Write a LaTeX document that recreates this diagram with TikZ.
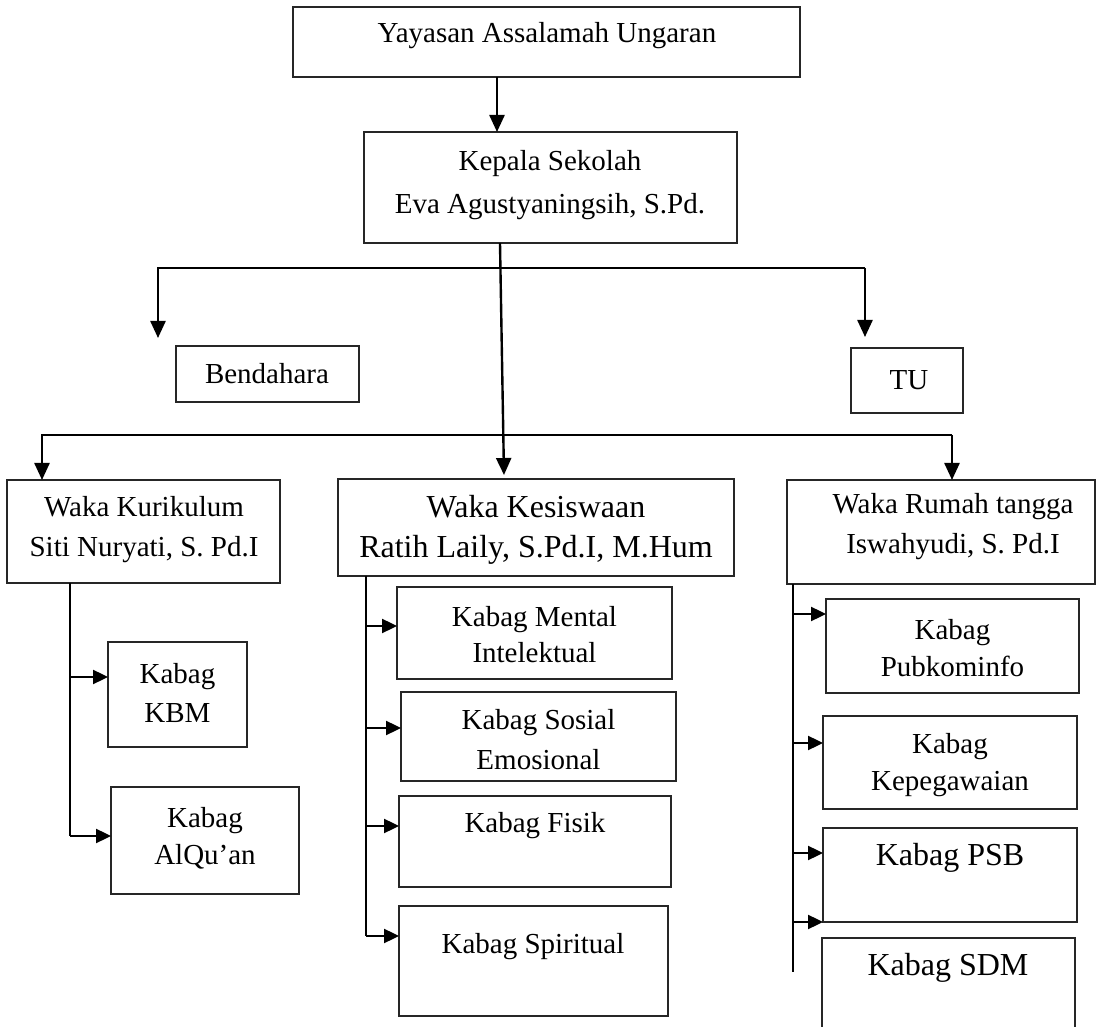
\documentclass[tikz,border=0pt]{standalone}
\usepackage{fontspec}
\setmainfont{Liberation Serif}
\usetikzlibrary{arrows.meta}
\tikzset{
  box/.style={draw=black!85, line width=0.6pt, rectangle, inner sep=0pt, outer sep=0pt},
  txt/.style={inner sep=0pt, align=center, font=\fontsize{14.5}{20}\selectfont},
  txtL/.style={inner sep=0pt, align=center, font=\fontsize{16}{20}\selectfont},
  conn/.style={line width=1.2pt, line join=miter},
  arr/.style={conn, -{Triangle[length=7.5pt,width=7pt]}},
  bigarr/.style={conn, -{Triangle[length=8.5pt,width=7.5pt]}},
}
% name, x1, y1, x2, y2 (pixels)
\newcommand{\mkbox}[5]{\node[box, minimum width={(#4-#2)*0.5pt}, minimum height={(#5-#3)*0.5pt}] (#1) at ({(#2+#4)/2},{(#3+#5)/2}) {};}
% vertical coordinate, target node, offset (px, downward) from target centre
\newcommand{\branchto}[3]{\path ([yshift={-(#3)*0.5pt}]#2.west) coordinate (#2-in);
  \draw[arr] (#1 |- #2-in) -- (#2-in);}
\begin{document}
\begin{tikzpicture}[x=0.5pt,y=-0.5pt]
\useasboundingbox (0,0) rectangle (1100,1027);
\clip (0,0) rectangle (1100,1027);

% boxes
\mkbox{yay}{293}{7}{800}{77}
\mkbox{kep}{364}{132}{737}{243}
\mkbox{ben}{176}{346}{359}{402}
\mkbox{tu}{851}{348}{963}{413}
\mkbox{wkur}{7}{480}{280}{583}
\mkbox{wkes}{338}{479}{734}{576}
\mkbox{wrt}{787}{480}{1095}{584}
\mkbox{kbm}{108}{642}{247}{747}
\mkbox{alq}{111}{787}{299}{894}
\mkbox{ment}{397}{587}{672}{679}
\mkbox{sos}{401}{692}{676}{781}
\mkbox{fis}{399}{796}{671}{887}
\mkbox{spi}{399}{906}{668}{1016}
\mkbox{pub}{826}{599}{1079}{693}
\mkbox{kpg}{823}{716}{1077}{809}
\mkbox{psb}{823}{828}{1077}{922}
\mkbox{sdm}{822}{938}{1075}{1060}

% texts
\node[txt] (yay-t) at (547,36) {Yayasan Assalamah Ungaran};
\node[txt, font=\fontsize{14.5}{21.5}\selectfont] (kep-t) at (550,185) {Kepala Sekolah\\Eva Agustyaningsih, S.Pd.};
\node[txt] (ben-t) at (267,374) {Bendahara};
\node[txt] (tu-t) at (909,380) {TU};
\node[txt] (wkur-t) at (144,530) {Waka Kurikulum\\Siti Nuryati, S. Pd.I};
\node[txtL] (wkes-t) at (536,530) {Waka Kesiswaan\\Ratih Laily, S.Pd.I, M.Hum};
\node[txt] (wrt-t) at (953,527) {Waka Rumah tangga\\Iswahyudi, S. Pd.I};
\node[txt, font=\fontsize{14.5}{19.5}\selectfont] (kbm-t) at (177.5,692.5) {Kabag\\KBM};
\node[txt, font=\fontsize{14.5}{18.5}\selectfont] (alq-t) at (205,838.5) {Kabag\\AlQu’an};
\node[txt, font=\fontsize{14.5}{18}\selectfont] (ment-t) at (534.5,635) {Kabag Mental\\Intelektual};
\node[txt] (sos-t) at (538.5,740) {Kabag Sosial\\Emosional};
\node[txt] (fis-t) at (535,826) {Kabag Fisik};
\node[txt] (spi-t) at (533,947) {Kabag Spiritual};
\node[txt, font=\fontsize{14.5}{18.5}\selectfont] (pub-t) at (952.5,648.5) {Kabag\\Pubkominfo};
\node[txt, font=\fontsize{14.5}{18.5}\selectfont] (kpg-t) at (950,765.5) {Kabag\\Kepegawaian};
\node[txtL] (psb-t) at (950,858) {Kabag PSB};
\node[txtL] (sdm-t) at (948,968) {Kabag SDM};

% top connectors
\coordinate (a1) at (497,0);
\draw[bigarr] (a1 |- yay.south) -- (a1 |- kep.north);
\coordinate (k1) at (500,0);
\coordinate (k2) at (504,0);
\draw[bigarr] (k1 |- kep.south) -- ([yshift=2pt]k2 |- wkes.north);

% first horizontal: Bendahara and TU
\coordinate (b1) at (158,268);
\coordinate (b2) at (865,268);
\draw[bigarr, shorten >=4pt] (b2) -- (b1) -- (b1 |- ben.north);
\draw[bigarr, shorten >=5.5pt] (b2) -- (b2 |- tu.north);

% second horizontal: the three Waka
\coordinate (c1) at (42,435);
\coordinate (c2) at (952,435);
\draw[bigarr] (c2) -- (c1) -- (c1 |- wkur.north);
\draw[bigarr] (c2) -- (c2 |- wrt.north);

% Waka Kurikulum branch
\coordinate (d1) at (70,0);
\branchto{d1}{kbm}{-17.5}
\branchto{d1}{alq}{-4.5}
\draw[conn] (d1 |- wkur.south) -- (d1 |- alq-in);

% Waka Kesiswaan branch
\coordinate (d2) at (366,0);
\branchto{d2}{ment}{-7}
\branchto{d2}{sos}{-8.5}
\branchto{d2}{fis}{-15.5}
\branchto{d2}{spi}{-25}
\draw[conn] (d2 |- wkes.south) -- (d2 |- spi-in);

% Waka Rumah tangga branch
\coordinate (d3) at (793,0);
\coordinate (d3end) at (793,972);
\branchto{d3}{pub}{-32}
\branchto{d3}{kpg}{-19.5}
\branchto{d3}{psb}{-22}
\draw[arr] (d3 |- psb.south west) -- (psb.south west);
\draw[conn] (d3 |- wrt.south) -- (d3end);
\end{tikzpicture}
\end{document}
